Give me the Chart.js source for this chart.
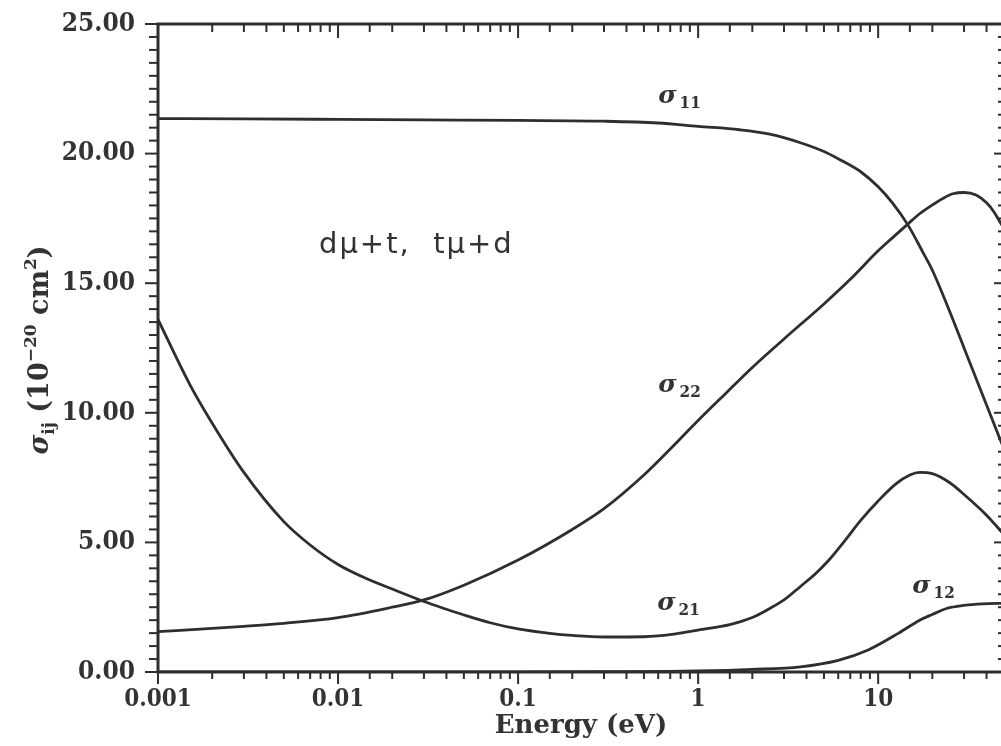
<!DOCTYPE html>
<html>
<head>
<meta charset="utf-8">
<script src="https://cdn.jsdelivr.net/npm/chart.js@4.4.1/dist/chart.umd.min.js"></script>
<style>
  html, body { margin: 0; padding: 0; background: #fff; overflow: hidden; }
  canvas { display: block; }
</style>
</head>
<body>
<canvas id="c" width="1006" height="746" style="width:1006px;height:746px"></canvas>
<script>
// Cross sections sigma_ij (1e-20 cm^2) against collision energy (eV)
const energy11 = [0.001, 0.003, 0.01, 0.03, 0.1, 0.3, 0.6, 1, 1.7, 2.5, 3.7, 5, 6, 8, 10, 12, 14.6, 17.7, 20, 25, 30, 40, 50];
const sigma11  = [21.35, 21.34, 21.32, 21.30, 21.28, 21.25, 21.18, 21.05, 20.92, 20.75, 20.42, 20.08, 19.8, 19.3, 18.72, 18.1, 17.26, 16.2, 15.5, 13.9, 12.5, 10.3, 8.6];

const energy22 = [0.001, 0.002, 0.003, 0.005, 0.01, 0.02, 0.03, 0.05, 0.1, 0.2, 0.3, 0.5, 0.7, 1, 1.4, 2, 3, 5, 7, 10, 12, 14.6, 17, 20, 23, 26, 30, 35, 40, 44, 47.6, 50];
const sigma22  = [1.56, 1.68, 1.76, 1.88, 2.1, 2.5, 2.78, 3.35, 4.32, 5.5, 6.3, 7.6, 8.6, 9.7, 10.7, 11.75, 12.85, 14.2, 15.15, 16.25, 16.75, 17.28, 17.68, 18.02, 18.28, 18.45, 18.5, 18.4, 18.1, 17.75, 17.35, 17.1];

const energy21 = [0.001, 0.0015, 0.002, 0.003, 0.005, 0.007, 0.01, 0.015, 0.02, 0.03, 0.04, 0.05, 0.07, 0.1, 0.15, 0.2, 0.3, 0.5, 0.75, 1, 1.5, 2, 2.5, 3, 3.7, 4.5, 5.3, 6.5, 8, 10, 12.5, 15, 17, 20, 25, 30, 40, 50];
const sigma21  = [13.6, 11.1, 9.6, 7.7, 5.8, 4.9, 4.15, 3.55, 3.2, 2.72, 2.42, 2.2, 1.9, 1.66, 1.49, 1.41, 1.35, 1.36, 1.47, 1.62, 1.83, 2.1, 2.45, 2.78, 3.3, 3.8, 4.3, 5.05, 5.85, 6.6, 7.25, 7.6, 7.7, 7.65, 7.3, 6.85, 6.05, 5.3];

const energy12 = [0.001, 0.01, 0.1, 0.3, 1, 2, 3.7, 6, 8.8, 13, 17, 20, 24, 30, 38, 50];
const sigma12  = [0, 0, 0, 0.01, 0.04, 0.1, 0.2, 0.45, 0.85, 1.5, 2.0, 2.22, 2.45, 2.57, 2.63, 2.65];

// Axis tick labels
const xTickValues = [0.001, 0.01, 0.1, 1, 10];
const xTickLabels = ['0.001', '0.01', '0.1', '1', '10'];
const yTickValues = [0, 5, 10, 15, 20, 25];
const yTickLabels = ['0.00', '5.00', '10.00', '15.00', '20.00', '25.00'];

// Curve labels, anchored in data units (energy, sigma) at the label's left baseline
const curveLabelNames = ['11', '22', '21', '12'];
const curveLabelEnergy = [0.6, 0.6, 0.592, 15.45];
const curveLabelSigma = [21.97, 10.79, 2.39, 3.04];
const reactionText = 'd\u03bc+t,  t\u03bc+d';
const reactionAt = [0.00784, 16.18];

const INK = '#2e2e2e';
const TEXT = '#333333';
const SERIF_C = '"DejaVu Serif Condensed", "DejaVu Serif", serif';
const SERIF = '"DejaVu Serif", serif';

function pts(xs, ys) { return xs.map((e, i) => ({ x: e, y: ys[i] })); }
function isDecade(v) { const l = Math.log10(v); return Math.abs(l - Math.round(l)) < 1e-6; }

// Frame with tick marks: outward on bottom/left, inward on top/right
const framePlugin = {
  id: 'frame',
  afterDraw(chart) {
    const { ctx, chartArea: a, scales: { x, y } } = chart;
    ctx.save();
    ctx.strokeStyle = INK;
    ctx.lineCap = 'butt';
    ctx.lineWidth = 2;
    const seg = (x1, y1, x2, y2) => { ctx.beginPath(); ctx.moveTo(x1, y1); ctx.lineTo(x2, y2); ctx.stroke(); };
    x.ticks.forEach(t => {
      const px = x.getPixelForValue(t.value);
      if (px < a.left - 1 || px > a.right + 1) return;
      const major = isDecade(t.value);
      seg(px, a.bottom, px, a.bottom + (major ? 12 : 7));
      seg(px, a.top, px, a.top + (major ? 14 : 8));
    });
    const yMinor = 0.5, yMajor = 5;
    for (let v = y.min; v <= y.max + 1e-9; v += yMinor) {
      const py = y.getPixelForValue(v);
      const major = Math.abs(v / yMajor - Math.round(v / yMajor)) < 1e-6;
      seg(a.left, py, a.left - (major ? 13 : 9), py);
      seg(a.right, py, a.right - (major ? 10 : 6), py);
    }
    ctx.lineWidth = 3;
    ctx.strokeRect(a.left, a.top, a.right - a.left, a.bottom - a.top);
    ctx.restore();
  }
};

// Text drawn inside the plot and the rotated y-axis title
const textPlugin = {
  id: 'texts',
  afterDraw(chart) {
    const { ctx, chartArea: a, scales: { x, y } } = chart;
    ctx.save();
    ctx.fillStyle = TEXT;
    ctx.textBaseline = 'alphabetic';
    ctx.textAlign = 'left';

    curveLabelNames.forEach((sub, i) => {
      const px = x.getPixelForValue(curveLabelEnergy[i]);
      const py = y.getPixelForValue(curveLabelSigma[i]);
      ctx.font = 'italic bold 25px ' + SERIF;
      ctx.fillText('\u03c3', px, py);
      const w = ctx.measureText('\u03c3').width;
      ctx.font = 'bold 17px ' + SERIF_C;
      ctx.fillText(sub, px + w + 3, py + 5);
    });

    ctx.font = '29px "DejaVu Sans", sans-serif';
    ctx.letterSpacing = '2px';
    ctx.fillText(reactionText, x.getPixelForValue(reactionAt[0]), y.getPixelForValue(reactionAt[1]));
    ctx.letterSpacing = '0px';

    // y-axis title: sigma_ij (10^-20 cm^2)
    const big = 'bold 27px ' + SERIF, bigI = 'italic bold 27px ' + SERIF, small = 'bold 17px ' + SERIF;
    const parts = [
      { t: '\u03c3', f: bigI, dy: 0 },
      { t: 'ij', f: small, dy: 6 },
      { t: ' (10', f: big, dy: 0 },
      { t: '\u221220', f: small, dy: -12 },
      { t: ' cm', f: big, dy: 0 },
      { t: '2', f: small, dy: -12 },
      { t: ')', f: big, dy: 0 }
    ];
    let total = 0;
    parts.forEach(p => { ctx.font = p.f; p.w = ctx.measureText(p.t).width; total += p.w; });
    ctx.translate(48, (a.top + a.bottom) / 2 + 2);
    ctx.rotate(-Math.PI / 2);
    let cx = -total / 2;
    parts.forEach(p => { ctx.font = p.f; ctx.fillText(p.t, cx, p.dy); cx += p.w; });
    ctx.restore();
  }
};

const line = (xs, ys) => ({
  data: pts(xs, ys),
  borderColor: INK,
  borderWidth: 2.8,
  pointRadius: 0,
  fill: false,
  cubicInterpolationMode: 'monotone'
});

new Chart(document.getElementById('c'), {
  type: 'line',
  data: {
    datasets: [
      line(energy11, sigma11),
      line(energy22, sigma22),
      line(energy21, sigma21),
      line(energy12, sigma12)
    ]
  },
  options: {
    responsive: false,
    devicePixelRatio: 1,
    animation: false,
    layout: { padding: { top: 24, right: 2, left: 0, bottom: 0 } },
    plugins: { legend: { display: false }, tooltip: { enabled: false } },
    scales: {
      x: {
        type: 'logarithmic',
        position: 'bottom',
        min: 0.001,
        max: 50,
        afterFit: s => { s.height = 74; },
        // tickLength only offsets the labels; the marks themselves are drawn by the frame plugin
        grid: { display: false, drawTicks: true, tickLength: 13 },
        border: { display: false },
        ticks: {
          autoSkip: false,
          maxRotation: 0,
          padding: 0,
          color: TEXT,
          font: { family: SERIF_C, weight: 'bold', size: 24 },
          callback: v => {
            const i = xTickValues.findIndex(t => Math.abs(Math.log10(t) - Math.log10(v)) < 1e-6);
            return i >= 0 ? xTickLabels[i] : '';
          }
        },
        title: {
          display: true,
          text: 'Energy (eV)',
          color: TEXT,
          font: { family: SERIF, weight: 'bold', size: 26 },
          padding: { top: 0, bottom: 4 }
        }
      },
      y: {
        type: 'linear',
        min: 0,
        max: 25,
        afterFit: s => { s.width = 158; },
        grid: { display: false, drawTicks: true, tickLength: 23 },
        border: { display: false },
        ticks: {
          stepSize: 5,
          padding: 0,
          color: TEXT,
          font: { family: SERIF_C, weight: 'bold', size: 26 },
          callback: v => {
            const i = yTickValues.findIndex(t => Math.abs(t - v) < 1e-6);
            return i >= 0 ? yTickLabels[i] : '';
          }
        }
      }
    }
  },
  plugins: [framePlugin, textPlugin]
});
</script>
</body>
</html>
